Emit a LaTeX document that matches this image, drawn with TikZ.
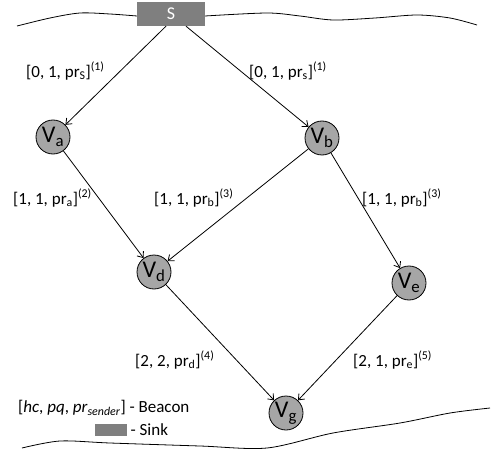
\documentclass[tikz,border=0pt]{standalone}
\usepackage{fontspec}
\setmainfont{Carlito}
\usepackage{tikz}
\usetikzlibrary{
    positioning,
    arrows.meta
}
\definecolor{sinkGray}{RGB}{127, 127, 127}
\definecolor{nodeGray}{RGB}{166, 166, 166}

\tikzset{
    sensor/.style={circle, draw, line width=0.8pt, fill=nodeGray, minimum size=34pt, inner sep=0pt, font=\fontsize{24}{26}\selectfont},
    sinkbox/.style={rectangle, fill=sinkGray, text=white, minimum width=68pt, minimum height=24pt, inner sep=0pt, font=\fontsize{18}{20}\selectfont},
    beacon/.style={anchor=west, inner sep=0pt, font=\fontsize{17}{19}\selectfont},
    link/.style={-{Straight Barb[length=5pt, width=8pt]}, line width=0.8pt}
}

\begin{document}
\begin{tikzpicture}[x=1pt, y=-1pt]
        \useasboundingbox (0,0) rectangle (492,457);

        % field border
        \draw[line width=0.8pt] plot[smooth] coordinates {(17,26) (50,18) (80,13) (110,14) (137,16)};
        \draw[line width=0.8pt] plot[smooth] coordinates {(205,16) (267,13) (300,16) (333,20) (375,18) (417,15) (450,18) (477,25)};
        \draw[line width=0.8pt] plot[smooth] coordinates {(22,448) (60,441) (110,443) (200,446) (267,448) (333,433) (400,423) (450,413) (490,408)};

        \node[sinkbox] (S) at (171,14) {S};
        \node[sensor] (va) at (53,137) {V\textsubscript{a}};
        \node[sensor] (vb) at (322,138) {V\textsubscript{b}};
        \node[sensor] (vd) at (154,272) {V\textsubscript{d}};
        \node[sensor] (ve) at (409,283) {V\textsubscript{e}};
        \node[sensor] (vg) at (286,413) {V\textsubscript{g}};

        \draw[link] ([xshift=-5pt]S.south) -- (va);
        \draw[link] ([xshift=15pt]S.south) -- (vb);
        \draw[link] (va) -- (vd);
        \draw[link] (vb) -- (vd);
        \draw[link] (vb) -- (ve);
        \draw[link] (vd) -- (vg);
        \draw[link] (ve) -- (vg);

        \node[beacon] (lsa) at (26,71) {[0, 1, pr\textsubscript{S}]\textsuperscript{(1)}};
        \node[beacon] (lsb) at (249,71) {[0, 1, pr\textsubscript{s}]\textsuperscript{(1)}};
        \node[beacon] (lad) at (13,198) {[1, 1, pr\textsubscript{a}]\textsuperscript{(2)}};
        \node[beacon] (lbd) at (154,198) {[1, 1, pr\textsubscript{b}]\textsuperscript{(3)}};
        \node[beacon] (lbe) at (362,198) {[1, 1, pr\textsubscript{b}]\textsuperscript{(3)}};
        \node[beacon] (ldg) at (135,360) {[2, 2, pr\textsubscript{d}]\textsuperscript{(4)}};
        \node[beacon] (leg) at (353,360) {[2, 1, pr\textsubscript{e}]\textsuperscript{(5)}};

        % legend
        \node[beacon] (key) at (18,408) {[\textit{hc}, \textit{pq}, \textit{pr}\textsubscript{\textit{sender}}] - Beacon};
        \node[fill=sinkGray, minimum width=32pt, minimum height=12pt, inner sep=0pt, anchor=west] (keysink) at (95,430) {};
        \node[beacon, right=3pt of keysink] (keytext) {- Sink};
    \end{tikzpicture}
\end{document}
